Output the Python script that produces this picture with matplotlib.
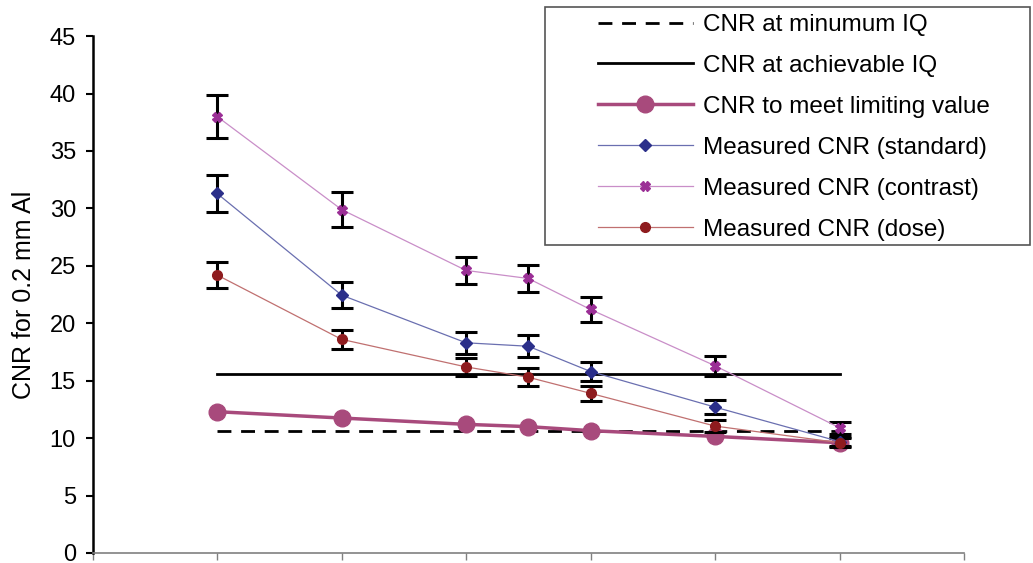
import matplotlib.pyplot as plt
from matplotlib.patches import Rectangle

plt.rcParams['font.family'] = ['Liberation Sans', 'DejaVu Sans']

# x positions (thickness steps)
x = [1, 2, 3, 3.5, 4, 5, 6]
limiting = [12.3, 11.75, 11.2, 11.0, 10.65, 10.15, 9.6]
standard = [31.3, 22.45, 18.3, 18.0, 15.8, 12.7, 9.7]
standard_err = [1.6, 1.15, 0.95, 0.95, 0.8, 0.6, 0.4]
contrast = [38.0, 29.9, 24.6, 23.9, 21.2, 16.3, 10.9]
contrast_err = [1.9, 1.5, 1.2, 1.2, 1.05, 0.85, 0.5]
dose = [24.2, 18.6, 16.2, 15.3, 13.9, 11.05, 9.6]
dose_err = [1.15, 0.85, 0.8, 0.8, 0.65, 0.5, 0.4]
min_iq = 10.6
achievable_iq = 15.6

fig = plt.figure(figsize=(10.33, 5.63), dpi=100)
ax = fig.add_axes([0.0897, 0.0178, 0.8435, 0.918])

h1, = ax.plot([x[0], x[-1]], [min_iq, min_iq], color='black', lw=2, ls=(0, (5, 3.5)),
              label='CNR at minumum IQ')
h2, = ax.plot([x[0], x[-1]], [achievable_iq, achievable_iq], color='black', lw=2,
              label='CNR at achievable IQ')
h3, = ax.plot(x, limiting, color='#a84a7c', lw=2.5, marker='o', ms=12,
              label='CNR to meet limiting value')

eb = dict(fmt='none', ecolor='black', elinewidth=2.2, capsize=8, capthick=2.2, zorder=2)
ax.errorbar(x, standard, yerr=standard_err, **eb)
ax.errorbar(x, contrast, yerr=contrast_err, **eb)
ax.errorbar(x, dose, yerr=dose_err, **eb)

h4, = ax.plot(x, standard, color='#6a6fb0', lw=0.9, marker='D', ms=6,
              mfc='#2b2f8a', mec='#2b2f8a', label='Measured CNR (standard)', zorder=3)
h5, = ax.plot(x, contrast, color='#c98ec8', lw=0.9, marker='X', ms=7,
              mfc='#9b2f96', mec='#9b2f96', label='Measured CNR (contrast)', zorder=3)
h6, = ax.plot(x, dose, color='#c07070', lw=0.9, marker='o', ms=7,
              mfc='#8e1b1e', mec='#8e1b1e', label='Measured CNR (dose)', zorder=3)

ax.set_xlim(0, 7)
ax.set_ylim(0, 45)
ax.set_xticks(range(8))
ax.set_xticklabels([])
ax.set_yticks(range(0, 46, 5))
ax.tick_params(axis='y', labelsize=17, width=1.5, length=5, pad=7, direction='out')
ax.tick_params(axis='x', length=5, color='#808080', width=1)
ax.spines['top'].set_visible(False)
ax.spines['right'].set_visible(False)
ax.spines['left'].set_linewidth(1.8)
ax.spines['bottom'].set_color('#808080')
ax.spines['bottom'].set_linewidth(1.2)
ax.set_ylabel('CNR for 0.2 mm Al', fontsize=18, labelpad=10)

# legend box drawn by hand so the handles can sit indented like the original
fig.patches.append(Rectangle((545 / 1033, 1 - 245 / 563), 485 / 1033, 238 / 563,
                             transform=fig.transFigure, fill=False,
                             edgecolor='#555555', lw=1.2, zorder=5))
leg = fig.legend(handles=[h1, h2, h3, h4, h5, h6], loc='upper left',
                 bbox_to_anchor=(598 / 1033, 1 - 14 / 563),
                 fontsize=17.5, frameon=False,
                 handlelength=3.9, handletextpad=0.4, labelspacing=0.78,
                 borderaxespad=0, borderpad=0)

fig.savefig('out.png', dpi=100)
